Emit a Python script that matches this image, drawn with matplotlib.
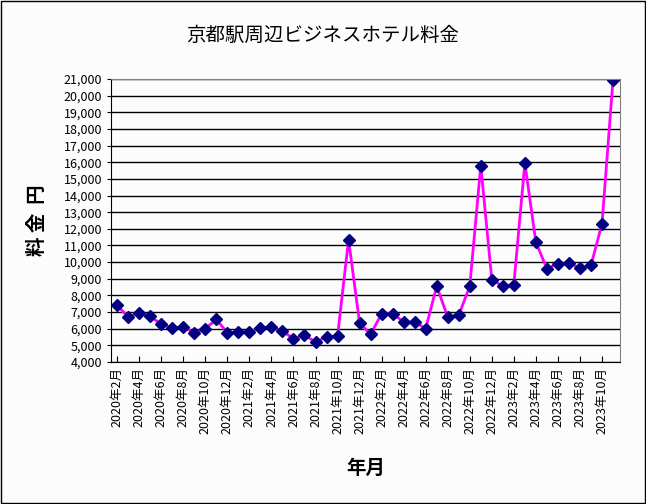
import matplotlib
matplotlib.use("Agg")
import matplotlib.pyplot as plt
from matplotlib.patches import Rectangle

plt.rcParams["font.family"] = "Noto Sans CJK JP"

months = []
for y in range(2020, 2024):
    for m in range(1, 13):
        if (y == 2020 and m < 2) or (y == 2023 and m > 11):
            continue
        months.append(f"{y}年{m}月")
prices = [7400, 6700, 6950, 6750, 6250, 6050, 6100, 5750, 6000, 6550, 5750,
          5800, 5800, 6050, 6100, 5850, 5400, 5600, 5200, 5500, 5550, 11350, 6350,
          5650, 6900, 6900, 6400, 6400, 6000, 8550, 6700, 6800, 8550, 15800, 8950,
          8550, 8650, 15950, 11200, 9600, 9900, 9950, 9650, 9800, 12300, 20950]
yticks = list(range(4000, 21001, 1000))

fig = plt.figure(figsize=(6.46, 5.04), dpi=100, facecolor="#fcfcfc")
fig.patches.append(Rectangle((0.002, 0.002), 0.996, 0.996, transform=fig.transFigure,
                             fill=False, edgecolor="black", lw=1))
ax = fig.add_axes([0.172, 0.282, 0.788, 0.561])
ax.set_facecolor("#fcfcfc")
x = list(range(len(months)))
ax.plot(x, prices, color="#ff00ff", lw=2, marker="D", markersize=6.5,
        markerfacecolor="#000080", markeredgecolor="#000080")
ax.set_xlim(-0.55, len(months) - 0.35)
ax.set_ylim(4000, 21000)
ax.set_yticks(yticks)
ax.set_yticklabels([f"{v:,}" for v in yticks], fontsize=9)
ax.yaxis.grid(True, color="black", lw=1)
ax.set_axisbelow(True)
ax.set_xticks(x[::2])
ax.set_xticklabels(months[::2], rotation=90, fontsize=9)
for s in ["top", "right"]:
    ax.spines[s].set_color("gray")
ax.tick_params(direction="in", length=4)
ax.tick_params(axis="y", direction="out", length=3)
fig.text(0.5, 0.93, "京都駅周辺ビジネスホテル料金", ha="center", va="center", fontsize=14)
ax.set_ylabel("料 金  円", fontsize=14, labelpad=12, fontweight="bold")
fig.text(0.566, 0.07, "年月", ha="center", va="center", fontsize=14, fontweight="bold")
fig.savefig("out.png", dpi=100, facecolor=fig.get_facecolor())
